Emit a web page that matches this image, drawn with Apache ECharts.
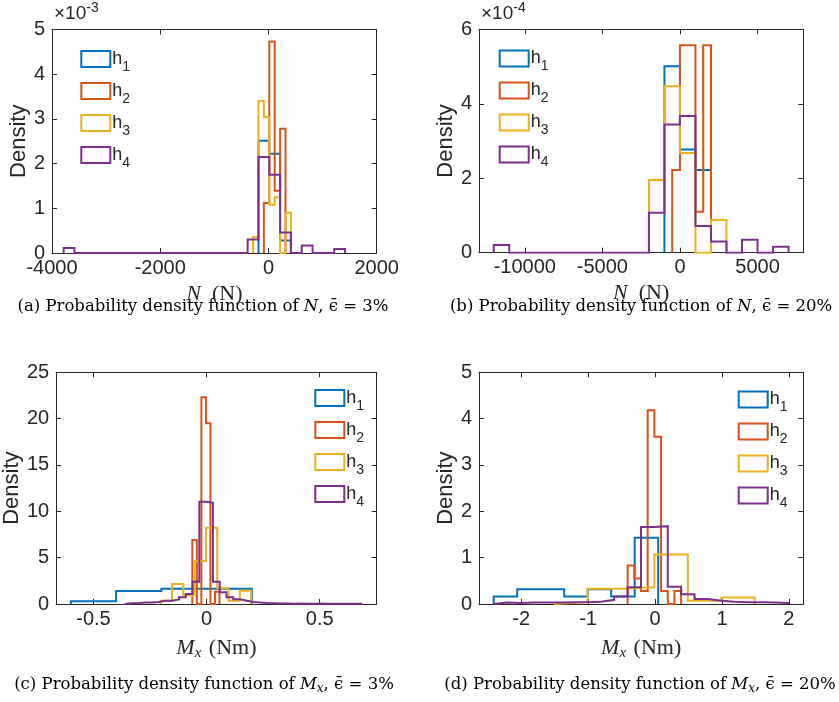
<!DOCTYPE html>
<html><head><meta charset="utf-8">
<script src="https://cdn.jsdelivr.net/npm/echarts@6/dist/echarts.min.js"></script>
<style>html,body{margin:0;padding:0;background:#fff}#c{width:839px;height:702px}</style>
</head><body><div id="c"></div>
<script>
// ---------- series meta ----------
const seriesNames = ['h1', 'h2', 'h3', 'h4'];
const colors = ['#0072BD', '#D95319', '#EDB120', '#7E2F8E'];

// ---------- (a) N, eps = 3%  (density in units of 1e-3) ----------
const aH1Edges = [-185, 15, 215, 415];
const aH1Dens  = [2.51, 2.22, 0.28];
const aH2Edges = [-85, 15, 115, 215, 315];
const aH2Dens  = [1.12, 4.73, 1.39, 2.78];
const aH3Edges = [-285, -185, -85, 15, 115, 215, 315, 415];
const aH3Dens  = [0.36, 3.40, 3.04, 1.08, 1.25, 0, 0.90];
const aH4Edges = [-3785, -3585, -3385, -3185, -2985, -2785, -2585, -2385, -2185, -1985, -1785, -1585, -1385,
                  -1185, -985, -785, -585, -385, -185, 15, 215, 415, 615, 815, 1015, 1215, 1415];
const aH4Dens  = [0.11, 0, 0, 0, 0, 0, 0, 0, 0, 0, 0, 0, 0, 0, 0, 0, 0, 0.30, 2.15, 1.75, 0.46, 0, 0.17, 0, 0, 0.09];
const aXTicks = [-4000, -2000, 0, 2000];
const aYTicks = [0, 1, 2, 3, 4, 5];

// ---------- (b) N, eps = 20%  (density in units of 1e-4) ----------
const bH1Edges = [-1000, 0, 1000, 2000];
const bH1Dens  = [5.01, 2.77, 2.22];
const bH2Edges = [-500, 0, 500, 1000, 1500, 2000];
const bH2Dens  = [2.22, 5.57, 5.57, 1.10, 5.57];
const bH3Edges = [-2000, -1000, 0, 1000, 2000, 3000];
const bH3Dens  = [1.95, 4.47, 2.68, 0, 0.88];
const bH4Edges = [-12000, -11000, -10000, -9000, -8000, -7000, -6000, -5000, -4000, -3000, -2000, -1000,
                  0, 1000, 2000, 3000, 4000, 5000, 6000, 7000];
const bH4Dens  = [0.21, 0, 0, 0, 0, 0, 0, 0, 0, 0, 1.07, 3.44, 3.67, 0.72, 0.30, 0, 0.35, 0, 0.16];
const bXTicks = [-10000, -5000, 0, 5000];
const bYTicks = [0, 2, 4, 6];

// ---------- (c) Mx, eps = 3% ----------
const cH1Edges = [-0.6, -0.4, -0.2, 0, 0.2];
const cH1Dens  = [0.30, 1.40, 1.64, 1.64];
const cH2Edges = [-0.063, -0.043, -0.023, -0.003, 0.017, 0.037, 0.057];
const cH2Dens  = [6.9, 0, 22.3, 19.5, 0, 1.33];
const cH3Edges = [-0.203, -0.153, -0.103, -0.053, -0.003, 0.047, 0.097, 0.147, 0.197];
const cH3Dens  = [0.36, 2.16, 0.95, 4.64, 8.23, 1.69, 0.36, 1.43];
const cH4Edges = [-0.362, -0.332, -0.302, -0.272, -0.242, -0.212, -0.182, -0.152, -0.122, -0.092, -0.062, -0.032,
                  -0.002, 0.028, 0.058, 0.088, 0.118, 0.148, 0.178, 0.208, 0.238, 0.268, 0.298, 0.328, 0.358,
                  0.388, 0.418, 0.448, 0.478, 0.508, 0.538, 0.568, 0.598, 0.628, 0.658, 0.688];
const cH4Dens  = [0.07, 0.07, 0.15, 0.15, 0.22, 0.36, 0.36, 0.50, 0.72, 1.08, 2.41, 11.04, 10.93, 2.41, 1.26,
                  0.72, 0.50, 0.36, 0.22, 0.15, 0.10, 0.07, 0.05, 0.05, 0.04, 0.05, 0.04, 0.04, 0.05, 0.03,
                  0.04, 0.04, 0.03, 0.04, 0.03];
const cXTicks = [-0.5, 0, 0.5];
const cYTicks = [0, 5, 10, 15, 20, 25];

// ---------- (d) Mx, eps = 20% ----------
const dH1Edges = [-2.41, -2.059, -1.708, -1.357, -1.006, -0.655, -0.304, 0.047];
const dH1Dens  = [0.16, 0.32, 0.32, 0.16, 0.32, 0.16, 1.43];
const dH2Edges = [-0.41, -0.31, -0.21, -0.11, -0.01, 0.09, 0.19, 0.29, 0.39];
const dH2Dens  = [0.83, 0.55, 0.28, 4.18, 3.61, 0.28, 0, 0.28];
const dH3Edges = [-1.51, -1.01, -0.51, -0.01, 0.49, 0.99, 1.49];
const dH3Dens  = [0.04, 0.33, 0.36, 1.07, 0.07, 0.14];
const dH4Edges = [-2.41, -2.21, -2.01, -1.81, -1.61, -1.41, -1.21, -1.01, -0.81, -0.61, -0.41, -0.21, -0.01,
                  0.19, 0.39, 0.59, 0.79, 0.99, 1.19, 1.39, 1.59, 1.79, 1.99];
const dH4Dens  = [0.03, 0.02, 0.03, 0.03, 0.03, 0.04, 0.04, 0.05, 0.09, 0.16, 0.36, 1.66, 1.68, 0.37, 0.21,
                  0.11, 0.07, 0.05, 0.04, 0.04, 0.03, 0.02];
const dXTicks = [-2, -1, 0, 1, 2];
const dYTicks = [0, 1, 2, 3, 4, 5];

// ---------- helpers ----------
const AX = '#262626';
const SANS = '"Liberation Sans", Arial, Helvetica, sans-serif';
const SERIF = '"Liberation Serif", "Times New Roman", serif';
const CAPSERIF = '"DejaVu Serif", "Liberation Serif", serif';

function stairs(edges, dens) {
  const pts = [[edges[0], 0]];
  for (let i = 0; i < dens.length; i++) {
    pts.push([edges[i], dens[i]]);
    pts.push([edges[i + 1], dens[i]]);
  }
  pts.push([edges[edges.length - 1], 0]);
  return pts;
}

const panels = [
  { grid: {left: 52, top: 29.5, width: 324.7, height: 223.5}, xMin: -4000, xMax: 2000, yMax: 5,
    xTicks: aXTicks, yTicks: aYTicks, xName: '{i|N}  (N)', xGap: 30, yGap: 17,
    edges: [aH1Edges, aH2Edges, aH3Edges, aH4Edges], dens: [aH1Dens, aH2Dens, aH3Dens, aH4Dens] },
  { grid: {left: 479, top: 29.3, width: 324.3, height: 223.4}, xMin: -12950, xMax: 7950, yMax: 6,
    xTicks: bXTicks, yTicks: bYTicks, xName: '{i|N}  (N)', xGap: 30, yGap: 19,
    edges: [bH1Edges, bH2Edges, bH3Edges, bH4Edges], dens: [bH1Dens, bH2Dens, bH3Dens, bH4Dens] },
  { grid: {left: 56, top: 372.3, width: 320.7, height: 231.7}, xMin: -0.665, xMax: 0.752, yMax: 25,
    xTicks: cXTicks, yTicks: cYTicks, xName: '{i|M}{s|x} (Nm)', xGap: 32, yGap: 29,
    edges: [cH1Edges, cH2Edges, cH3Edges, cH4Edges], dens: [cH1Dens, cH2Dens, cH3Dens, cH4Dens] },
  { grid: {left: 479, top: 372.3, width: 324.3, height: 231.7}, xMin: -2.63, xMax: 2.215, yMax: 5,
    xTicks: dXTicks, yTicks: dYTicks, xName: '{i|M}{s|x} (Nm)', xGap: 32, yGap: 20,
    edges: [dH1Edges, dH2Edges, dH3Edges, dH4Edges], dens: [dH1Dens, dH2Dens, dH3Dens, dH4Dens] }
];

const grids = [], xAxes = [], yAxes = [], series = [];
const tickLabel = {fontFamily: SANS, fontSize: 20, color: AX};
panels.forEach((p, gi) => {
  grids.push(Object.assign({containLabel: false}, p.grid));
  xAxes.push({
    gridIndex: gi, type: 'value', position: 'bottom', min: p.xMin, max: p.xMax,
    axisLine: {show: true, onZero: false, lineStyle: {color: AX, width: 1}},
    axisTick: {show: true, inside: true, length: 5, customValues: p.xTicks, lineStyle: {color: AX}},
    axisLabel: Object.assign({customValues: p.xTicks, margin: 5, formatter: v => String(v)}, tickLabel),
    splitLine: {show: false},
    name: p.xName, nameLocation: 'middle', nameGap: p.xGap,
    nameTextStyle: {fontFamily: SERIF, fontSize: 22, color: AX,
      rich: {i: {fontFamily: SERIF, fontStyle: 'italic', fontSize: 22, color: AX},
             s: {fontFamily: SERIF, fontStyle: 'italic', fontSize: 15, color: AX, padding: [10, 2, 0, 0]}}}
  });
  xAxes.push({
    gridIndex: gi, type: 'value', position: 'top', min: p.xMin, max: p.xMax,
    axisLine: {show: true, onZero: false, lineStyle: {color: AX, width: 1}},
    axisTick: {show: true, inside: true, length: 5, customValues: p.xTicks, lineStyle: {color: AX}},
    axisLabel: {show: false}, splitLine: {show: false}
  });
  yAxes.push({
    gridIndex: gi, type: 'value', position: 'left', min: 0, max: p.yMax,
    axisLine: {show: true, onZero: false, lineStyle: {color: AX, width: 1}},
    axisTick: {show: true, inside: true, length: 5, customValues: p.yTicks, lineStyle: {color: AX}},
    axisLabel: Object.assign({customValues: p.yTicks, margin: 7, formatter: v => String(v)}, tickLabel),
    splitLine: {show: false},
    name: 'Density', nameLocation: 'middle', nameGap: p.yGap, nameRotate: 90,
    nameTextStyle: {fontFamily: SANS, fontSize: 22, color: AX}
  });
  yAxes.push({
    gridIndex: gi, type: 'value', position: 'right', min: 0, max: p.yMax,
    axisLine: {show: true, onZero: false, lineStyle: {color: AX, width: 1}},
    axisTick: {show: true, inside: true, length: 5, customValues: p.yTicks, lineStyle: {color: AX}},
    axisLabel: {show: false}, splitLine: {show: false}
  });
  for (let k = 0; k < 4; k++) {
    series.push({
      name: seriesNames[k], type: 'line', xAxisIndex: 2 * gi, yAxisIndex: 2 * gi,
      data: stairs(p.edges[k], p.dens[k]), symbol: 'none', showSymbol: false,
      lineStyle: {color: colors[k], width: 2, join: 'miter'}, itemStyle: {color: colors[k]},
      animation: false, silent: true, z: 2 + k
    });
  }
});

function legendAt(left, top) {
  return {
    orient: 'vertical', left: left, top: top, padding: 0, itemWidth: 29, itemHeight: 16, itemGap: 8,
    selectedMode: false,
    data: seriesNames.map((n, i) => ({name: n, icon: 'rect',
      itemStyle: {color: 'rgba(0,0,0,0)', borderColor: colors[i], borderWidth: 2}})),
    formatter: n => '{h|h}{s|' + n.slice(1) + '}',
    textStyle: {color: AX, padding: [0, 0, 0, -3], rich: {
      h: {fontFamily: SANS, fontSize: 18, color: AX},
      s: {fontFamily: SANS, fontSize: 14, color: AX, padding: [16, 0, 0, 0]}}}
  };
}

function multiplier(x, exp) {
  return {type: 'text', x: x, y: 1, style: {
    text: '{a|\u00d710}{s|' + exp + '}', rich: {
      a: {fontFamily: SANS, fontSize: 19, fill: AX},
      s: {fontFamily: SANS, fontSize: 14, fill: AX, padding: [0, 0, 12, 0]}}}};
}

function caption(cx, cy, label, sym, pct) {
  return {type: 'text', x: cx, y: cy, style: {
    text: label + ' Probability density function of ' + sym + ', {e|\u03f5\u0304} = ' + pct,
    align: 'center', verticalAlign: 'middle', font: '16.5px ' + CAPSERIF, fill: '#000',
    rich: {
      i: {fontFamily: CAPSERIF, fontStyle: 'italic', fontSize: 16.5, fill: '#000'},
      s: {fontFamily: CAPSERIF, fontStyle: 'italic', fontSize: 12, fill: '#000', padding: [8, 0, 0, 0]},
      e: {fontFamily: CAPSERIF, fontSize: 16.5, fill: '#000'}
    }}};
}

const chart = echarts.init(document.getElementById('c'), null, {renderer: 'canvas'});
chart.setOption({
  backgroundColor: '#fff',
  animation: false,
  grid: grids, xAxis: xAxes, yAxis: yAxes, series: series,
  legend: [legendAt(80.3, 50), legendAt(498.7, 49.5), legendAt(314.3, 389), legendAt(737.7, 390.5)],
  graphic: [
    multiplier(54, '-3'), multiplier(481, '-4'),
    caption(203, 307, '(a)', '{i|N}', '3%'),
    caption(641, 307, '(b)', '{i|N}', '20%'),
    caption(204, 685, '(c)', '{i|M}{s|x}', '3%'),
    caption(640, 685, '(d)', '{i|M}{s|x}', '20%')
  ]
});
</script></body></html>
